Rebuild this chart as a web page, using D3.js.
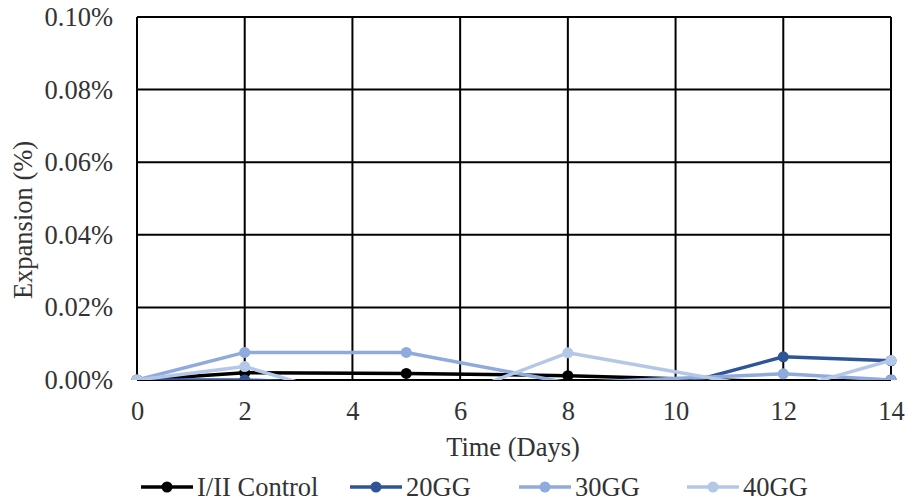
<!DOCTYPE html>
<html><head><meta charset="utf-8">
<script src="https://cdn.jsdelivr.net/npm/d3@7"></script>
<style>body{margin:0;background:#fff}text{font-family:"Liberation Serif","Times New Roman",serif;fill:#333}</style>
</head><body><svg id="c" width="907" height="502"></svg>
<script>
const days = [0, 2, 5, 8, 12, 14];
const control = [0, 0.0020, 0.0018, 0.0012, -0.0005, 0];
const gg20 = [0, 0, -0.0015, -0.0096, 0.0064, 0.0053];
const gg30 = [0, 0.0076, 0.0076, -0.0008, 0.0017, 0];
const gg40 = [0, 0.0037, -0.0094, 0.0075, -0.0030, 0.0054];
const seriesNames = ["I/II Control", "20GG", "30GG", "40GG"];
const colors = ["#000000", "#2F5597", "#8FAADC", "#B4C7E7"];
const xTicks = [0, 2, 4, 6, 8, 10, 12, 14];
const yTicks = [0, 0.02, 0.04, 0.06, 0.08, 0.10];

const FS = 26.5;
const svg = d3.select("#c");
const L = 137, R = 891, T = 17, B = 380;
const x = d3.scaleLinear().domain([0, 14]).range([L, R]);
const y = d3.scaleLinear().domain([0, 0.10]).range([B, T]);

// grid
svg.append("g").selectAll("line").data(xTicks).join("line")
  .attr("x1", d => x(d)).attr("x2", d => x(d)).attr("y1", T).attr("y2", B)
  .attr("stroke", "#000").attr("stroke-width", 2);
svg.append("g").selectAll("line").data(yTicks).join("line")
  .attr("x1", L).attr("x2", R).attr("y1", d => y(d)).attr("y2", d => y(d))
  .attr("stroke", "#000").attr("stroke-width", 2);

// axes
const yAxis = svg.append("g").attr("transform", `translate(${L},0)`)
  .call(d3.axisLeft(y).tickValues(yTicks).tickFormat(d => d.toFixed(2) + "%").tickSize(0).tickPadding(24));
yAxis.select(".domain").remove();
yAxis.selectAll("text").attr("font-size", FS).attr("fill", "#333").attr("font-family", "Liberation Serif");
const xAxis = svg.append("g").attr("transform", `translate(0,${B})`)
  .call(d3.axisBottom(x).tickValues(xTicks).tickFormat(d3.format("d")).tickSize(0).tickPadding(21));
xAxis.select(".domain").remove();
xAxis.selectAll("text").attr("font-size", FS).attr("fill", "#333").attr("font-family", "Liberation Serif");

svg.append("text").attr("x", 513).attr("y", 456).attr("text-anchor", "middle")
  .attr("font-size", FS).text("Time (Days)");
svg.append("text").attr("transform", `translate(32,220) rotate(-90)`)
  .attr("text-anchor", "middle").attr("font-size", FS).text("Expansion (%)");

// clip
svg.append("clipPath").attr("id", "clip").append("rect")
  .attr("x", L - 8).attr("y", T - 8).attr("width", R - L + 16).attr("height", B - T + 8);

const data = [control, gg20, gg30, gg40];
const line = d3.line().x((d, i) => x(days[i])).y(d => y(d));
const g = svg.append("g").attr("clip-path", "url(#clip)");
data.forEach((vals, k) => {
  g.append("path").datum(vals).attr("d", line).attr("fill", "none")
    .attr("stroke", colors[k]).attr("stroke-width", 3.5).attr("stroke-linejoin", "round");
  g.selectAll(null).data(vals.map((v, i) => ({v, d: days[i]})).filter(p => p.v >= 0)).join("circle")
    .attr("cx", p => x(p.d)).attr("cy", p => y(p.v)).attr("r", 5.5).attr("fill", colors[k]);
});

// legend
const legX = [141, 350, 519, 687];
const lg = svg.append("g");
seriesNames.forEach((n, k) => {
  const gx = legX[k], gy = 487;
  lg.append("line").attr("x1", gx).attr("x2", gx + 52).attr("y1", gy).attr("y2", gy)
    .attr("stroke", colors[k]).attr("stroke-width", 3.5);
  lg.append("circle").attr("cx", gx + 26).attr("cy", gy).attr("r", 5.5).attr("fill", colors[k]);
  lg.append("text").attr("x", gx + 56).attr("y", gy + 9).attr("font-size", FS).text(n);
});
</script></body></html>
